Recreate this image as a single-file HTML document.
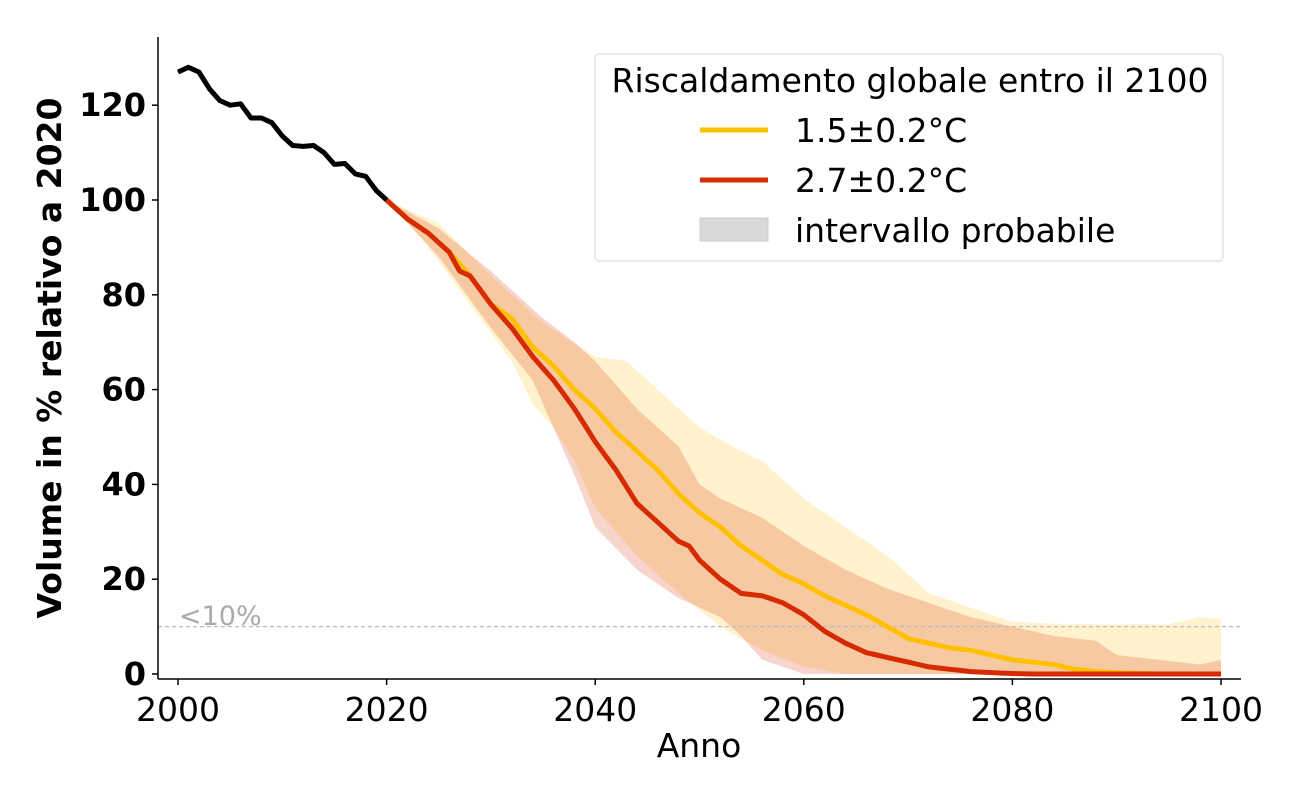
<!DOCTYPE html>
<html><head><meta charset="utf-8"><style>
body{margin:0;background:#fff}
svg text{font-family:"DejaVu Sans","Liberation Sans",sans-serif}
</style></head><body>
<svg id="s" width="1300" height="800" xmlns="http://www.w3.org/2000/svg">
<g id="fills"></g>
<line x1="158" y1="626.6" x2="1241" y2="626.6" stroke="#bbb" stroke-width="1.2" stroke-dasharray="4,3"/>
<text x="179" y="625" font-size="27" fill="#aaa">&lt;10%</text>
<g id="lines"></g>
<line x1="158" y1="37" x2="158" y2="679" stroke="#000" stroke-width="1.5"/>
<line x1="158" y1="679" x2="1241" y2="679" stroke="#000" stroke-width="1.5"/>
<g id="ticks"></g>
<text x="699" y="757" font-size="33" text-anchor="middle">Anno</text>
<text transform="translate(61,358) rotate(-90)" font-size="33" font-weight="bold" text-anchor="middle">Volume in % relativo a 2020</text>
<rect x="595" y="54" width="628" height="207" rx="4" fill="#fff" fill-opacity="0.85" stroke="#ddd" stroke-width="1.2"/>
<text x="910" y="92" font-size="33" text-anchor="middle">Riscaldamento globale entro il 2100</text>
<line x1="700" y1="130" x2="768" y2="130" stroke="#ffc000" stroke-width="5"/>
<line x1="700" y1="180" x2="768" y2="180" stroke="#d62a00" stroke-width="5"/>
<rect x="700" y="218" width="68" height="23" fill="#d8d8d8" stroke="#ccc"/>
<text x="795" y="142" font-size="33">1.5±0.2°C</text>
<text x="795" y="192" font-size="33">2.7±0.2°C</text>
<text x="795" y="242" font-size="33">intervallo probabile</text>
</svg>
<script>
const X=y=>178+(y-2000)*10.43, Y=v=>674-v*4.74;
function interp(pts){const o=[];for(let i=0;i<pts.length-1;i++){const[a,va]=pts[i],[b,vb]=pts[i+1];for(let t=a;t<b;t++)o.push([t,va+(vb-va)*(t-a)/(b-a)]);}o.push(pts[pts.length-1]);return o;}
const P=a=>a.map(([t,v])=>X(t).toFixed(1)+","+Y(v).toFixed(1)).join(" ");
function band(u,l){const U=interp(u),L=interp(l).reverse();return P(U)+" "+P(L);}
const yu=[[2020,100],[2025,95],[2030,84],[2035,74],[2040,67],[2043,66],[2046,60],[2050,52],[2054,47],[2056,45],[2060,37],[2064,31],[2068,25],[2072,17],[2076,14],[2080,11],[2085,10.5],[2095,10.5],[2098,12],[2100,11.5]];
const yl=[[2020,100],[2024,90],[2028,78],[2032,66],[2034,57],[2036,52],[2038,45],[2040,35],[2044,25],[2048,17],[2052,10],[2056,5],[2060,1.5],[2064,0],[2100,0]];
const ru=[[2020,100],[2025,94],[2030,85],[2035,75],[2038,70],[2040,66],[2044,56],[2048,48],[2050,40],[2052,37],[2056,33],[2060,27],[2064,22],[2068,18],[2072,15],[2076,12],[2080,10],[2084,8],[2088,7],[2090,4],[2094,3],[2098,2],[2100,3]];
const rl=[[2020,100],[2025,88],[2030,73],[2034,62],[2036,52],[2038,42],[2040,31],[2044,22],[2048,16],[2052,12],[2054,8],[2056,3],[2060,0],[2100,0]];
const blk=[127,128,127,123.5,121,120,120.3,117.3,117.3,116.3,113.5,111.5,111.3,111.5,110,107.5,107.7,105.5,105,102,100].map((v,i)=>[2000+i,v]);
const ym=[[2020,100],[2022,96],[2024,93],[2026,89],[2028,84],[2030,78],[2032,75],[2034,69],[2036,65],[2038,60],[2040,56],[2042,51],[2044,47],[2046,43],[2048,38],[2050,34],[2052,31],[2054,27],[2056,24],[2058,21],[2060,19],[2062,16.5],[2064,14.5],[2066,12.5],[2068,10],[2070,7.5],[2072,6.5],[2074,5.5],[2076,5],[2078,4],[2080,3],[2082,2.5],[2084,2],[2086,1],[2088,0.5],[2090,0.3],[2092,0.1],[2094,0],[2100,0]];
const rm=[[2020,100],[2022,96],[2024,93],[2026,89],[2027,85],[2028,84],[2030,78],[2032,73],[2034,67],[2036,62],[2038,56],[2040,49],[2042,43],[2044,36],[2046,32],[2048,28],[2049,27],[2050,24],[2052,20],[2054,17],[2056,16.5],[2058,15],[2060,12.5],[2062,9],[2064,6.5],[2066,4.5],[2068,3.5],[2070,2.5],[2072,1.5],[2074,1],[2076,0.5],[2078,0.3],[2080,0.1],[2082,0],[2100,0]];
document.getElementById('fills').innerHTML=
`<polygon points="${band(yu,yl)}" fill="#ffc000" fill-opacity="0.2"/>
<polygon points="${band(ru,rl)}" fill="#d62a00" fill-opacity="0.2"/>`;
document.getElementById('lines').innerHTML=
`<polyline points="${P(interp(ym))}" fill="none" stroke="#ffc000" stroke-width="5" stroke-linejoin="round"/>
<polyline points="${P(interp(rm))}" fill="none" stroke="#d62a00" stroke-width="5" stroke-linejoin="round"/>
<polyline points="${P(blk)}" fill="none" stroke="#000" stroke-width="5" stroke-linejoin="round"/>`;
let t='';
for(let v=0;v<=120;v+=20){const y=Y(v);t+=`<line x1="152" y1="${y}" x2="158" y2="${y}" stroke="#000" stroke-width="1.5"/><text x="146" y="${y+11}" font-size="32" font-weight="bold" text-anchor="end">${v}</text>`;}
for(let yr=2000;yr<=2100;yr+=20){const x=X(yr);t+=`<line x1="${x}" y1="679" x2="${x}" y2="685" stroke="#000" stroke-width="1.5"/><text x="${x}" y="721" font-size="33" text-anchor="middle">${yr}</text>`;}
document.getElementById('ticks').innerHTML=t;
</script>
</body></html>
